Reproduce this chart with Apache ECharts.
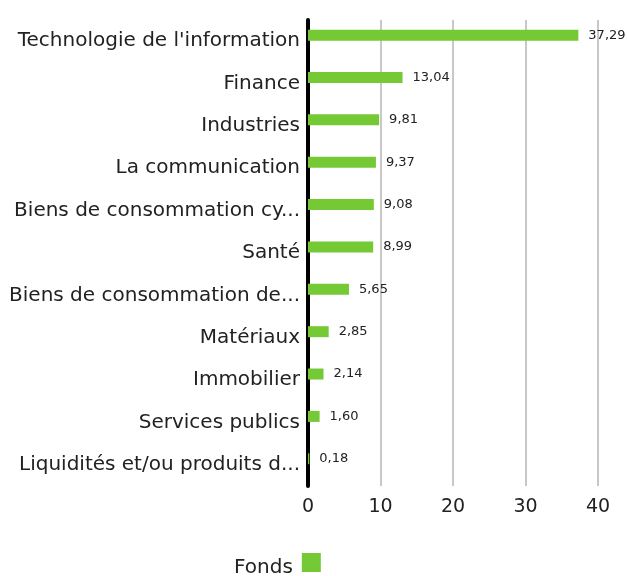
<!DOCTYPE html>
<html>
<head>
<meta charset="utf-8">
<script src="https://cdn.jsdelivr.net/npm/echarts@6/dist/echarts.min.js"></script>
<style>
    html, body { margin: 0; padding: 0; background: #fff; }
    #chart { width: 627px; height: 576px; }
</style>
</head>
<body>
<div id="chart"></div>
<script>
let categories = [
    "Technologie de l'information",
    'Finance',
    'Industries',
    'La communication',
    'Biens de consommation cyclique',
    'Santé',
    'Biens de consommation de base',
    'Matériaux',
    'Immobilier',
    'Services publics',
    'Liquidités et/ou produits dérivés'
];
let fondsValues = [37.29, 13.04, 9.81, 9.37, 9.08, 8.99, 5.65, 2.85, 2.14, 1.60, 0.18];
let xTicks = [0, 10, 20, 30, 40];

let fontName = '"DejaVu Sans", sans-serif';
let barColor = '#74c935';

let eChart = echarts.init(document.getElementById('chart'));

let option = {
    animation: false,
    backgroundColor: '#ffffff',
    textStyle: {
        fontFamily: fontName
    },
    legend: {
        data: [{ name: 'Fonds', icon: 'rect' }],
        top: 553,
        left: 234,
        padding: 0,
        align: 'right',
        itemWidth: 19,
        itemHeight: 19,
        itemGap: 10,
        formatter: '{t|{name}}',
        textStyle: {
            fontSize: 20,
            color: '#222',
            fontFamily: fontName,
            rich: {
                t: {
                    fontSize: 20,
                    color: '#222',
                    fontFamily: fontName,
                    padding: [10, 4, 0, 0]
                }
            }
        }
    },
    grid: {
        left: 308,
        right: 29,
        top: 20,
        bottom: 90,
        containLabel: false
    },
    xAxis: {
        type: 'value',
        min: xTicks[0],
        max: xTicks[xTicks.length - 1],
        interval: 10,
        axisLine: { show: false },
        axisTick: { show: false },
        splitLine: {
            show: true,
            lineStyle: { color: '#c8c8c8', width: 2 }
        },
        axisLabel: {
            fontSize: 19,
            color: '#222',
            margin: 12,
            fontFamily: fontName
        }
    },
    yAxis: {
        type: 'category',
        inverse: true,
        data: categories,
        axisLine: {
            show: true,
            lineStyle: { color: '#000', width: 4 }
        },
        axisTick: { show: false },
        axisLabel: {
            fontSize: 20,
            color: '#222',
            margin: 8,
            width: 292,
            overflow: 'truncate',
            ellipsis: '...',
            fontFamily: fontName
        }
    },
    series: [
        {
            name: 'Fonds',
            type: 'bar',
            data: fondsValues,
            barWidth: 11,
            barGap: '10%',
            itemStyle: { color: barColor },
            label: {
                show: true,
                position: 'right',
                distance: 10,
                fontSize: 13,
                color: '#222',
                fontFamily: fontName,
                formatter: function (p) {
                    return p.value.toFixed(2).replace('.', ',');
                }
            }
        },
        {
            // empty slot that pushes the real bar above the band centre
            name: 'spacer',
            type: 'bar',
            data: [],
            barWidth: 11,
            barGap: '10%',
            silent: true
        }
    ]
};

eChart.setOption(option);
</script>
</body>
</html>
